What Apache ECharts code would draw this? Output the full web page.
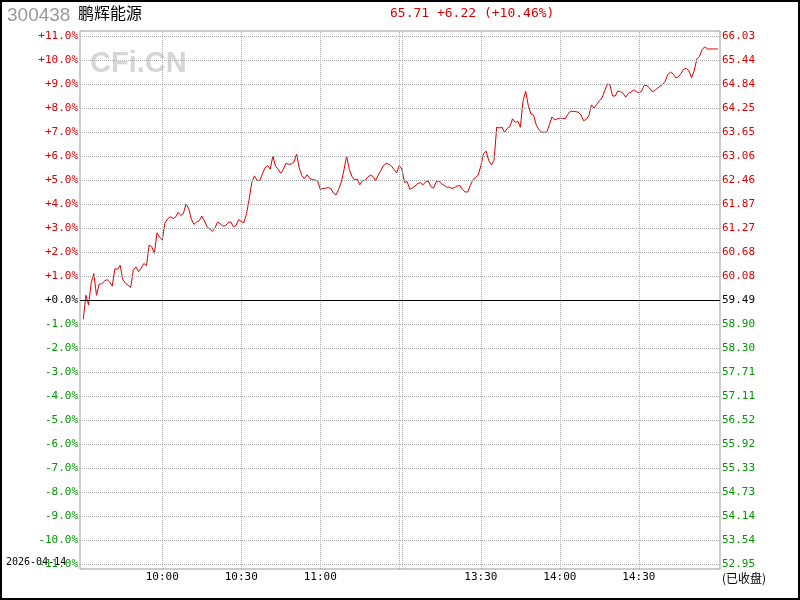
<!DOCTYPE html>
<html>
<head>
<meta charset="utf-8">
<script src="https://cdn.jsdelivr.net/npm/echarts@6/dist/echarts.min.js"></script>
<style>html,body{margin:0;padding:0;background:#fff;}#c{width:800px;height:600px;}</style>
</head>
<body>
<div id="c"></div>
<script>
// ---- data ----
const stockCode = '300438';
const stockName = '鹏辉能源';
const quoteText = '65.71 +6.22 (+10.46%)';
const dateText = '2026-04-14';
const statusText = '(已收盘)';
const prevClose = 59.49;

// percent change per minute (index 0 = 09:30, 120 = 11:30, 121 = 13:00, 241 = 15:00)
const pctValues = [
 -0.8, 0.2, -0.2, 0.72, 1.1, 0.2, 0.66, 0.68, 0.78, 0.85,
 0.75, 0.58, 1.3, 1.28, 1.45, 0.85, 0.7, 0.62, 0.52, 1.25,
 1.38, 1.18, 1.33, 1.52, 1.43, 2.29, 2.22, 1.94, 2.8, 2.62,
 2.5, 3.2, 3.38, 3.47, 3.4, 3.45, 3.65, 3.52, 3.6, 4.0,
 3.82, 3.38, 3.15, 3.25, 3.3, 3.5, 3.3, 3.05, 2.96, 2.86,
 3.0, 3.25, 3.17, 3.08, 3.1, 3.22, 3.26, 3.05, 3.1, 3.35,
 3.27, 3.22, 3.6, 4.2, 4.9, 5.17, 4.98, 4.98, 5.25, 5.5,
 5.6, 5.45, 6.0, 5.58, 5.45, 5.28, 5.45, 5.7, 5.65, 5.67,
 5.75, 6.08, 5.5, 5.18, 5.06, 5.22, 5.06, 5.02, 5.0, 4.95,
 4.61, 4.65, 4.65, 4.69, 4.64, 4.45, 4.38, 4.62, 4.92, 5.42,
 6.0, 5.45, 5.15, 5.0, 5.05, 4.8, 4.97, 4.98, 5.12, 5.2,
 5.15, 4.98, 5.2, 5.4, 5.6, 5.69, 5.66, 5.58, 5.44, 5.3,
 5.6, 5.45, 4.9, 4.93, 4.62, 4.67, 4.75, 4.85, 4.89, 4.8,
 4.92, 4.96, 4.72, 4.66, 4.92, 4.96, 4.85, 4.78, 4.7, 4.7,
 4.65, 4.69, 4.75, 4.77, 4.61, 4.5, 4.5, 4.78, 5.02, 5.1,
 5.21, 5.6, 6.1, 6.2, 5.8, 5.63, 5.83, 7.2, 7.17, 7.2,
 6.98, 7.15, 7.22, 7.55, 7.4, 7.45, 7.2, 8.3, 8.7, 8.1,
 7.75, 7.7, 7.3, 7.1, 7.0, 6.99, 6.99, 7.3, 7.63, 7.5,
 7.55, 7.57, 7.57, 7.55, 7.74, 7.87, 7.86, 7.85, 7.82, 7.71,
 7.47, 7.53, 7.68, 8.13, 8.0, 8.15, 8.3, 8.42, 8.72, 9.0,
 8.96, 8.5, 8.5, 8.71, 8.68, 8.61, 8.45, 8.61, 8.66, 8.76,
 8.68, 8.64, 8.7, 8.94, 8.93, 8.84, 8.68, 8.72, 8.83, 8.9,
 8.98, 9.12, 9.4, 9.49, 9.43, 9.26, 9.3, 9.44, 9.62, 9.65,
 9.55, 9.26, 9.55, 10.04, 10.15, 10.43, 10.55, 10.46, 10.46, 10.46,
 10.46, 10.46
];

const pctTicks = [11,10,9,8,7,6,5,4,3,2,1,0,-1,-2,-3,-4,-5,-6,-7,-8,-9,-10,-11];
const pctLabels = ['+11.0%','+10.0%','+9.0%','+8.0%','+7.0%','+6.0%','+5.0%','+4.0%','+3.0%','+2.0%','+1.0%','+0.0%',
  '-1.0%','-2.0%','-3.0%','-4.0%','-5.0%','-6.0%','-7.0%','-8.0%','-9.0%','-10.0%','-11.0%'];
const priceLabels = ['66.03','65.44','64.84','64.25','63.65','63.06','62.46','61.87','61.27','60.68','60.08','59.49',
  '58.90','58.30','57.71','57.11','56.52','55.92','55.33','54.73','54.14','53.54','52.95'];

const timeTicks = [30, 60, 90, 151, 181, 211];
const timeLabels = ['10:00', '10:30', '11:00', '13:30', '14:00', '14:30'];
const vGridTicks = [30, 60, 90, 120, 121, 151, 181, 211];

// ---- chart ----
const RED = '#dd0000', GREEN = '#009900', BLACK = '#000000';
const signColor = v => { const r = Math.round(v); return r > 0 ? RED : (r < 0 ? GREEN : BLACK); };
const YR = 11 + 5 / 24;
const mono = 'DejaVu Sans Mono';

const chart = echarts.init(document.getElementById('c'), null, { renderer: 'canvas' });
const lineData = pctValues.map((v, i) => [i, v]);
const gridStyle = { color: '#a8a8a8', type: [1, 1], width: 1 };

chart.setOption({
  animation: false,
  backgroundColor: '#ffffff',
  grid: { left: 80, right: 80, top: 31, bottom: 31, show: true, borderColor: '#999999', borderWidth: 1, backgroundColor: 'transparent' },
  xAxis: {
    type: 'value', min: -1.25, max: 241.8,
    axisLine: { show: false }, axisTick: { show: false }, splitLine: { show: false },
    axisLabel: {
      customValues: timeTicks, margin: 3, color: '#000', fontFamily: mono, fontSize: 11,
      formatter: v => timeLabels[timeTicks.indexOf(Math.round(v))] || ''
    }
  },
  yAxis: [
    {
      type: 'value', min: -YR, max: YR, position: 'left',
      axisLine: { show: false }, axisTick: { show: false }, splitLine: { show: false },
      axisLabel: {
        customValues: pctTicks, margin: 2, fontFamily: mono, fontSize: 11,
        color: v => signColor(v),
        formatter: v => pctLabels[pctTicks.indexOf(Math.round(v))] || ''
      }
    },
    {
      type: 'value', min: -YR, max: YR, position: 'right',
      axisLine: { show: false }, axisTick: { show: false }, splitLine: { show: false },
      axisLabel: {
        customValues: pctTicks, margin: 2, fontFamily: mono, fontSize: 11,
        color: v => signColor(v),
        formatter: v => priceLabels[pctTicks.indexOf(Math.round(v))] || ''
      }
    }
  ],
  series: [
    {
      type: 'line', data: [], z: 1, silent: true,
      markLine: {
        silent: true, symbol: ['none', 'none'], animation: false,
        label: { show: false },
        data: pctTicks.filter(t => t !== 0).map(t => ({ yAxis: t, lineStyle: gridStyle }))
          .concat(vGridTicks.map(t => ({ xAxis: t, lineStyle: gridStyle })))
      }
    },
    {
      type: 'line', data: [], z: 2, silent: true,
      markLine: {
        silent: true, symbol: ['none', 'none'], animation: false,
        label: { show: false },
        data: [{ yAxis: 0, lineStyle: { color: '#000', type: 'solid', width: 1 } }]
      }
    },
    {
      type: 'line', data: lineData, z: 3, showSymbol: false, smooth: false,
      lineStyle: { color: RED, width: 1 }, silent: true
    }
  ],
  graphic: [
    { type: 'rect', shape: { x: 1, y: 1, width: 798, height: 598 }, style: { fill: null, stroke: '#000', lineWidth: 2 }, silent: true },
    { type: 'text', left: 90, top: 49, style: { text: 'CFi.CN', fill: '#d6d6d6', font: 'bold 29px "Liberation Sans", Arial, sans-serif' }, silent: true },
    { type: 'text', left: 7, top: 6, style: { text: stockCode, fill: '#999999', font: '19px "Liberation Sans", Arial, sans-serif' } },
    { type: 'text', left: 78, top: 5, style: { text: stockName, fill: '#000', font: '16px "Noto Sans CJK SC", sans-serif' } },
    { type: 'text', left: 390, top: 7, style: { text: quoteText, fill: RED, font: '13px "DejaVu Sans Mono", monospace' } },
    { type: 'text', left: 6, top: 557, style: { text: dateText, fill: '#000', font: '10px "DejaVu Sans Mono", monospace' } },
    { type: 'text', left: 722, top: 572, style: { text: statusText, fill: '#000', font: '12px "Noto Sans CJK SC", sans-serif' } }
  ]
});
</script>
</body>
</html>
